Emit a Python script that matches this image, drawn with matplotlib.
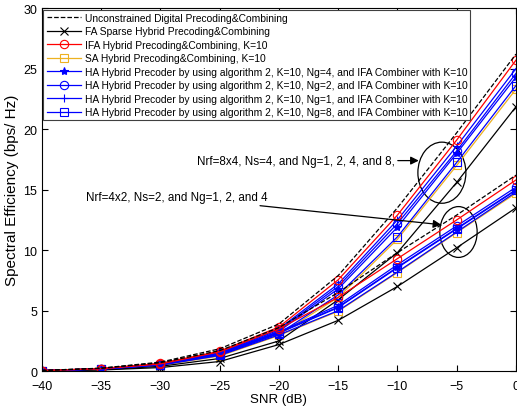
import matplotlib.pyplot as plt
from matplotlib.patches import Ellipse

plt.rcParams['font.family'] = ['Liberation Sans', 'DejaVu Sans']

SNR = [-40, -35, -30, -25, -20, -15, -10, -5, 0]

# Nrf=8x4, Ns=4
unc_L = [0.06, 0.25, 0.75, 1.85, 3.9, 7.9, 13.5, 19.7, 26.2]
fa_L = [0.03, 0.12, 0.4, 1.05, 2.5, 5.9, 9.8, 15.6, 21.85]
ifa_L = [0.05, 0.22, 0.65, 1.65, 3.65, 7.55, 12.9, 19.1, 25.7]
sa_L = [0.04, 0.17, 0.5, 1.3, 3.0, 6.1, 10.9, 17.0, 23.3]
ha4_L = [0.05, 0.19, 0.57, 1.45, 3.3, 6.8, 11.9, 18.0, 24.3]
ha2_L = [0.05, 0.2, 0.6, 1.5, 3.4, 7.0, 12.2, 18.2, 24.6]
ha1_L = [0.05, 0.21, 0.62, 1.55, 3.5, 7.2, 12.5, 18.6, 25.0]
ha8_L = [0.04, 0.18, 0.52, 1.35, 3.1, 6.3, 11.1, 17.25, 23.6]

# Nrf=4x2, Ns=2
unc_S = [0.06, 0.24, 0.7, 1.7, 3.6, 6.5, 9.8, 12.9, 16.2]
fa_S = [0.03, 0.1, 0.3, 0.8, 2.2, 4.2, 7.0, 10.2, 13.5]
ifa_S = [0.05, 0.2, 0.6, 1.6, 3.5, 6.1, 9.3, 12.5, 15.8]
sa_S = [0.04, 0.16, 0.48, 1.25, 2.95, 4.95, 8.15, 11.45, 14.7]
ha4_S = [0.05, 0.18, 0.55, 1.4, 3.2, 5.3, 8.6, 11.8, 15.0]
ha2_S = [0.05, 0.19, 0.57, 1.45, 3.25, 5.45, 8.8, 12.0, 15.2]
ha1_S = [0.04, 0.17, 0.5, 1.3, 3.0, 5.0, 8.2, 11.5, 14.8]
ha8_S = [0.05, 0.18, 0.54, 1.38, 3.15, 5.25, 8.55, 11.75, 14.95]

labels = ['Unconstrained Digital Precoding&Combining',
          'FA Sparse Hybrid Precoding&Combining',
          'IFA Hybrid Precoding&Combining, K=10',
          'SA Hybrid Precoding&Combining, K=10',
          'HA Hybrid Precoder by using algorithm 2, K=10, Ng=4, and IFA Combiner with K=10',
          'HA Hybrid Precoder by using algorithm 2, K=10, Ng=2, and IFA Combiner with K=10',
          'HA Hybrid Precoder by using algorithm 2, K=10, Ng=1, and IFA Combiner with K=10',
          'HA Hybrid Precoder by using algorithm 2, K=10, Ng=8, and IFA Combiner with K=10']

orange = '#EDB120'
styles = [dict(color='k', ls='--', marker=None),
          dict(color='k', ls='-', marker='x'),
          dict(color='r', ls='-', marker='o', mfc='none'),
          dict(color=orange, ls='-', marker='s', mfc='none'),
          dict(color='b', ls='-', marker='*'),
          dict(color='b', ls='-', marker='o', mfc='none'),
          dict(color='b', ls='-', marker='+'),
          dict(color='b', ls='-', marker='s', mfc='none')]

big = [unc_L, fa_L, ifa_L, sa_L, ha4_L, ha2_L, ha1_L, ha8_L]
small = [unc_S, fa_S, ifa_S, sa_S, ha4_S, ha2_S, ha1_S, ha8_S]

fig = plt.figure(figsize=(5.17, 4.14), dpi=100)
ax = fig.add_axes([0.081, 0.101, 0.917, 0.877])

# orange under the blues, red and dashed on top
order = [3, 1, 7, 4, 5, 6, 2, 0]
for i in order:
    ax.plot(SNR, big[i], lw=0.9, ms=6, mew=0.8, label=labels[i], **styles[i])
    ax.plot(SNR, small[i], lw=0.9, ms=6, mew=0.8, **styles[i])

h, l = ax.get_legend_handles_labels()
hl = sorted(zip(h, l), key=lambda t: labels.index(t[1]))
leg = ax.legend([t[0] for t in hl], [t[1] for t in hl], loc='upper left',
                fontsize=7.4, handlelength=3.4, handletextpad=0.3,
                labelspacing=0.34, borderaxespad=0.15, borderpad=0.3,
                fancybox=False, framealpha=1, edgecolor='#404040')
leg.get_frame().set_linewidth(0.8)

ax.add_patch(Ellipse((-6.25, 16.4), 4.05, 5.05, fill=False, ec='k', lw=0.9))
ax.add_patch(Ellipse((-4.85, 11.5), 3.15, 4.2, fill=False, ec='k', lw=0.9))

arr = dict(arrowstyle='-|>', color='k', lw=0.9, mutation_scale=12, shrinkA=0, shrinkB=0)
ax.annotate('Nrf=8x4, Ns=4, and Ng=1, 2, 4, and 8,', xy=(-8.2, 17.4), xytext=(-26.9, 17.4),
            fontsize=8.4, va='center', arrowprops=arr)
ax.annotate('Nrf=4x2, Ns=2, and Ng=1, 2, and 4', xy=(-6.3, 12.1), xytext=(-36.3, 14.4),
            fontsize=8.4, va='center', arrowprops=arr)

ax.set_xlim(-40, 0)
ax.set_ylim(0, 30)
ax.set_xticks(range(-40, 1, 5))
ax.set_yticks(range(0, 31, 5))
ax.tick_params(direction='in', top=True, right=True, labelsize=9, length=4, width=0.8)
ax.tick_params(axis='x', pad=6)
for s in ax.spines.values():
    s.set_linewidth(0.8)
ax.set_xlabel('SNR (dB)', fontsize=9.5, labelpad=1)
ax.set_ylabel('Spectral Efficiency (bps/ Hz)', fontsize=11, labelpad=3)

fig.savefig('out.png', dpi=100)
